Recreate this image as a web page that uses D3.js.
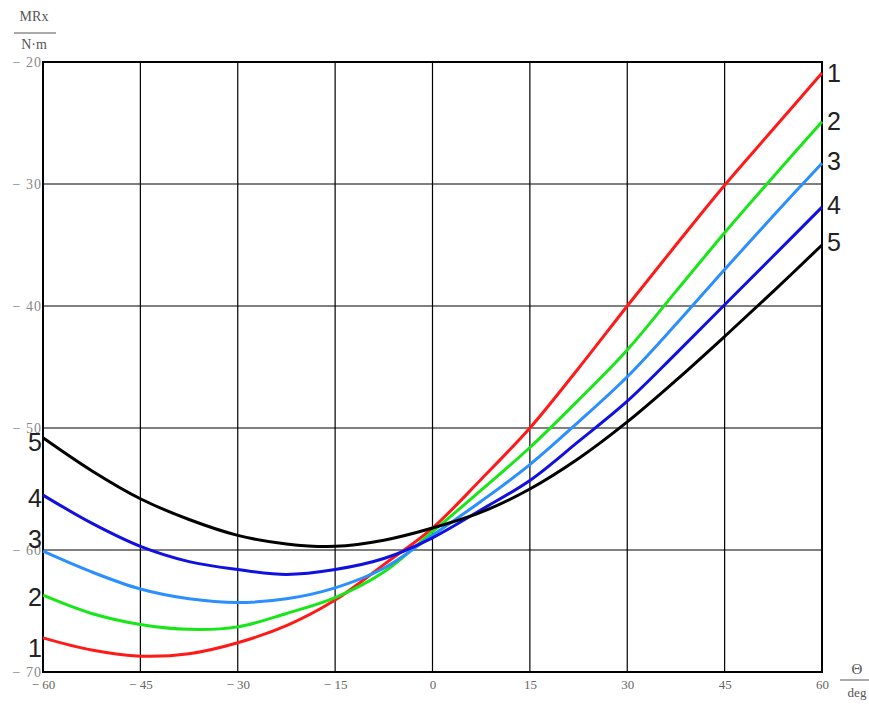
<!DOCTYPE html>
<html>
<head>
<meta charset="utf-8">
<script src="https://cdn.jsdelivr.net/npm/d3@7"></script>
<style>
  html, body { margin: 0; padding: 0; background: #fff; }
  svg { display: block; }
</style>
</head>
<body>
<svg id="chart" width="869" height="708"></svg>
<script>
// ---- data ----
const thetaDeg = [-60, -52.5, -45, -37.5, -30, -22.5, -15, -7.5, 0, 7.5, 15, 22.5, 30, 37.5, 45, 52.5, 60];
const curve1 = [-67.2, -68.2, -68.7, -68.5, -67.6, -66.2, -64.1, -61.2, -58.2, -54.2, -50.0, -45.1, -40.0, -35.0, -30.1, -25.5, -20.9];
const curve2 = [-63.7, -65.2, -66.1, -66.5, -66.3, -65.2, -63.9, -61.8, -58.5, -55.1, -51.6, -47.7, -43.6, -38.8, -34.0, -29.4, -24.9];
const curve3 = [-60.1, -61.8, -63.2, -64.0, -64.3, -64.0, -63.1, -61.5, -58.8, -56.0, -53.0, -49.5, -45.8, -41.5, -37.0, -32.6, -28.3];
const curve4 = [-55.5, -57.8, -59.7, -60.95, -61.6, -62.0, -61.6, -60.7, -59.0, -56.7, -54.3, -51.1, -47.8, -43.9, -39.9, -35.9, -31.9];
const curve5 = [-50.8, -53.5, -55.8, -57.5, -58.8, -59.5, -59.7, -59.2, -58.2, -56.9, -55.0, -52.5, -49.5, -46.1, -42.5, -38.8, -35.0];
const curveNames = ["1", "2", "3", "4", "5"];
const curveColors = ["#ff1a1a", "#19e619", "#2b8fff", "#1010e0", "#000000"];
const xTicks = [-60, -45, -30, -15, 0, 15, 30, 45, 60];
const xTickLabels = ["\u2212 60", "\u2212 45", "\u2212 30", "\u2212 15", "0", "15", "30", "45", "60"];
const yTicks = [-20, -30, -40, -50, -60, -70];
const yTickLabels = ["\u2212 20", "\u2212 30", "\u2212 40", "\u2212 50", "\u2212 60", "\u2212 70"];

const series = [curve1, curve2, curve3, curve4, curve5];

// ---- layout ----
const svg = d3.select("#chart");
const L = 43, R = 822, T = 62, B = 672;
const x = d3.scaleLinear().domain([-60, 60]).range([L, R]);
const y = d3.scaleLinear().domain([-70, -20]).range([B, T]);

// grid
const g = svg.append("g");
g.selectAll("line.vg").data(xTicks).join("line")
  .attr("x1", d => x(d)).attr("x2", d => x(d))
  .attr("y1", T).attr("y2", B)
  .attr("stroke", "#000").attr("stroke-width", 1.2);
g.selectAll("line.hg").data(yTicks).join("line")
  .attr("x1", L).attr("x2", R)
  .attr("y1", d => y(d)).attr("y2", d => y(d))
  .attr("stroke", "#000").attr("stroke-width", 1.2);
g.append("rect").attr("x", L).attr("y", T).attr("width", R - L).attr("height", B - T)
  .attr("fill", "none").attr("stroke", "#000").attr("stroke-width", 2);

// axes tick labels
const xAxis = d3.axisBottom(x).tickValues(xTicks).tickSize(0).tickPadding(8)
  .tickFormat((d, i) => xTickLabels[i]);
const xa = svg.append("g").attr("transform", `translate(0,${B})`).call(xAxis);
xa.select(".domain").remove();
xa.selectAll("text").attr("font-family", "Liberation Serif, serif").attr("font-size", 13)
  .attr("fill", "#666");

const yAxis = d3.axisLeft(y).tickValues(yTicks).tickSize(0).tickPadding(1)
  .tickFormat((d, i) => yTickLabels[i]);
const ya = svg.append("g").attr("transform", `translate(${L},0)`).call(yAxis);
ya.select(".domain").remove();
ya.selectAll("text").attr("font-family", "Liberation Serif, serif").attr("font-size", 14)
  .attr("fill", "#888").attr("letter-spacing", 1);

// curves
const line = d3.line().x((d, i) => x(thetaDeg[i])).y(d => y(d)).curve(d3.curveCatmullRom.alpha(0.5));
svg.append("g").selectAll("path").data(series).join("path")
  .attr("d", d => line(d))
  .attr("fill", "none")
  .attr("stroke", (d, i) => curveColors[i])
  .attr("stroke-width", 3)
  .attr("stroke-linejoin", "round");

// curve number labels, right and left
const leftNudge = [10, 2, -12, 3, 4];
const rightNudge = [0, -1, -2, -2, -3];
svg.append("g").selectAll("text").data(series).join("text")
  .attr("x", R + 5).attr("y", (d, i) => y(d[d.length - 1]) + rightNudge[i])
  .attr("dy", "0.36em")
  .attr("font-family", "Liberation Sans, Arial, sans-serif").attr("font-size", 25)
  .attr("fill", "#222")
  .text((d, i) => curveNames[i]);
svg.append("g").selectAll("text").data(series).join("text")
  .attr("x", L - 1).attr("y", (d, i) => y(d[0]) + leftNudge[i])
  .attr("dy", "0.36em")
  .attr("text-anchor", "end")
  .attr("font-family", "Liberation Sans, Arial, sans-serif").attr("font-size", 25)
  .attr("fill", "#222")
  .text((d, i) => curveNames[i]);

// axis unit labels
const yUnit = svg.append("g").attr("font-family", "Liberation Serif, serif").attr("fill", "#555");
yUnit.append("text").attr("x", 34).attr("y", 21).attr("text-anchor", "middle").attr("font-size", 14).text("MRx");
yUnit.append("line").attr("x1", 14).attr("x2", 56).attr("y1", 33).attr("y2", 33).attr("stroke", "#555").attr("stroke-width", 1);
yUnit.append("text").attr("x", 34).attr("y", 49).attr("text-anchor", "middle").attr("font-size", 14).text("N\u00b7m");

const xUnit = svg.append("g").attr("font-family", "Liberation Serif, serif").attr("fill", "#555");
xUnit.append("text").attr("x", 857).attr("y", B + 2).attr("text-anchor", "middle").attr("font-size", 15).text("\u0398");
xUnit.append("line").attr("x1", 840).attr("x2", 869).attr("y1", B + 8).attr("y2", B + 8).attr("stroke", "#555").attr("stroke-width", 1);
xUnit.append("text").attr("x", 857).attr("y", B + 25).attr("text-anchor", "middle").attr("font-size", 13).text("deg");
</script>
</body>
</html>
